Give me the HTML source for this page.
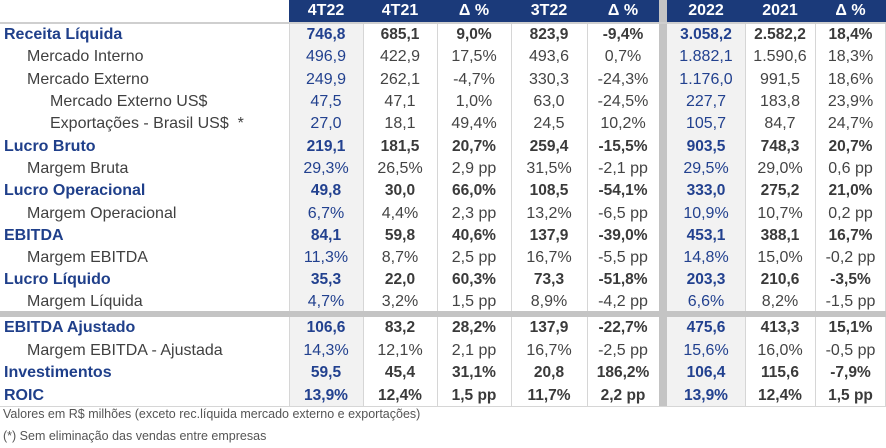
<!DOCTYPE html>
<html><head><meta charset="utf-8"><style>
*{margin:0;padding:0;box-sizing:border-box}
body{width:886px;height:448px;background:#fff;font-family:"Liberation Sans",sans-serif;position:relative;overflow:hidden}
.r{position:absolute;left:0;width:886px;height:22.3px;display:flex;align-items:center}
.c{position:absolute;top:0;height:100%;display:flex;align-items:center;justify-content:center;font-size:16px;color:#444}
.l{left:0;width:289px;justify-content:flex-start;color:#404040}
.b .c{font-weight:bold;font-size:15.5px;color:#3a3a3a}
.b .l{color:#1f3f8a;font-size:16px}
.blue{color:#22418f!important}
.vl{position:absolute;top:22px;width:1px;height:385px;background:#d6d6d6}
.sh{position:absolute;top:22px;height:385px;background:#f2f2f2}
.hd{position:absolute;top:0;height:22px;background:#1b3a7a;color:#fff;font-weight:bold;font-size:16px;display:flex;align-items:center;justify-content:center}
.fn{position:absolute;left:3px;font-size:12.5px;color:#555}
</style></head><body>
<div class="sh" style="left:289px;width:74px"></div>
<div class="sh" style="left:667px;width:78px"></div>
<div class="vl" style="left:289px"></div>
<div class="vl" style="left:363px"></div>
<div class="vl" style="left:437px"></div>
<div class="vl" style="left:511px"></div>
<div class="vl" style="left:587px"></div>
<div class="vl" style="left:745px"></div>
<div class="vl" style="left:815px"></div>
<div class="vl" style="left:885px"></div>
<div style="position:absolute;left:659px;top:0;width:8px;height:407px;background:#c4c4c4"></div>
<div class="hd" style="left:289px;width:370px"></div>
<div class="hd" style="left:667px;width:219px"></div>
<div class="hd" style="left:289px;width:74px">4T22</div>
<div class="hd" style="left:363px;width:74px">4T21</div>
<div class="hd" style="left:437px;width:74px">Δ %</div>
<div class="hd" style="left:511px;width:76px">3T22</div>
<div class="hd" style="left:587px;width:72px">Δ %</div>
<div class="hd" style="left:667px;width:78px">2022</div>
<div class="hd" style="left:745px;width:70px">2021</div>
<div class="hd" style="left:815px;width:71px">Δ %</div>
<div style="position:absolute;left:0;top:22px;width:886px;height:2px;background:#cfcfcf"></div>
<div style="position:absolute;left:0;top:311px;width:886px;height:6px;background:#c4c4c4"></div>
<div style="position:absolute;left:0;top:406px;width:886px;height:1px;background:#d6d6d6"></div>

<div class="fn" style="top:407px">Valores em R$ milhões (exceto rec.líquida mercado externo e exportações)</div>
<div class="fn" style="top:429px">(*) Sem eliminação das vendas entre empresas</div>

<div class="r b" style="top:24px"><div class="c l" style="padding-left:4px">Receita Líquida</div><div class="c blue" style="left:289px;width:74px">746,8</div><div class="c" style="left:363px;width:74px">685,1</div><div class="c" style="left:437px;width:74px">9,0%</div><div class="c" style="left:511px;width:76px">823,9</div><div class="c" style="left:587px;width:72px">-9,4%</div><div class="c blue" style="left:667px;width:78px">3.058,2</div><div class="c" style="left:745px;width:70px">2.582,2</div><div class="c" style="left:815px;width:71px">18,4%</div></div>
<div class="r" style="top:46.3px"><div class="c l" style="padding-left:27px">Mercado Interno</div><div class="c blue" style="left:289px;width:74px">496,9</div><div class="c" style="left:363px;width:74px">422,9</div><div class="c" style="left:437px;width:74px">17,5%</div><div class="c" style="left:511px;width:76px">493,6</div><div class="c" style="left:587px;width:72px">0,7%</div><div class="c blue" style="left:667px;width:78px">1.882,1</div><div class="c" style="left:745px;width:70px">1.590,6</div><div class="c" style="left:815px;width:71px">18,3%</div></div>
<div class="r" style="top:68.6px"><div class="c l" style="padding-left:27px">Mercado Externo</div><div class="c blue" style="left:289px;width:74px">249,9</div><div class="c" style="left:363px;width:74px">262,1</div><div class="c" style="left:437px;width:74px">-4,7%</div><div class="c" style="left:511px;width:76px">330,3</div><div class="c" style="left:587px;width:72px">-24,3%</div><div class="c blue" style="left:667px;width:78px">1.176,0</div><div class="c" style="left:745px;width:70px">991,5</div><div class="c" style="left:815px;width:71px">18,6%</div></div>
<div class="r" style="top:90.9px"><div class="c l" style="padding-left:50px">Mercado Externo US$</div><div class="c blue" style="left:289px;width:74px">47,5</div><div class="c" style="left:363px;width:74px">47,1</div><div class="c" style="left:437px;width:74px">1,0%</div><div class="c" style="left:511px;width:76px">63,0</div><div class="c" style="left:587px;width:72px">-24,5%</div><div class="c blue" style="left:667px;width:78px">227,7</div><div class="c" style="left:745px;width:70px">183,8</div><div class="c" style="left:815px;width:71px">23,9%</div></div>
<div class="r" style="top:113.2px"><div class="c l" style="padding-left:50px">Exportações - Brasil US$ &nbsp;*</div><div class="c blue" style="left:289px;width:74px">27,0</div><div class="c" style="left:363px;width:74px">18,1</div><div class="c" style="left:437px;width:74px">49,4%</div><div class="c" style="left:511px;width:76px">24,5</div><div class="c" style="left:587px;width:72px">10,2%</div><div class="c blue" style="left:667px;width:78px">105,7</div><div class="c" style="left:745px;width:70px">84,7</div><div class="c" style="left:815px;width:71px">24,7%</div></div>
<div class="r b" style="top:135.5px"><div class="c l" style="padding-left:4px">Lucro Bruto</div><div class="c blue" style="left:289px;width:74px">219,1</div><div class="c" style="left:363px;width:74px">181,5</div><div class="c" style="left:437px;width:74px">20,7%</div><div class="c" style="left:511px;width:76px">259,4</div><div class="c" style="left:587px;width:72px">-15,5%</div><div class="c blue" style="left:667px;width:78px">903,5</div><div class="c" style="left:745px;width:70px">748,3</div><div class="c" style="left:815px;width:71px">20,7%</div></div>
<div class="r" style="top:157.8px"><div class="c l" style="padding-left:27px">Margem Bruta</div><div class="c blue" style="left:289px;width:74px">29,3%</div><div class="c" style="left:363px;width:74px">26,5%</div><div class="c" style="left:437px;width:74px">2,9 pp</div><div class="c" style="left:511px;width:76px">31,5%</div><div class="c" style="left:587px;width:72px">-2,1 pp</div><div class="c blue" style="left:667px;width:78px">29,5%</div><div class="c" style="left:745px;width:70px">29,0%</div><div class="c" style="left:815px;width:71px">0,6 pp</div></div>
<div class="r b" style="top:180.1px"><div class="c l" style="padding-left:4px">Lucro Operacional</div><div class="c blue" style="left:289px;width:74px">49,8</div><div class="c" style="left:363px;width:74px">30,0</div><div class="c" style="left:437px;width:74px">66,0%</div><div class="c" style="left:511px;width:76px">108,5</div><div class="c" style="left:587px;width:72px">-54,1%</div><div class="c blue" style="left:667px;width:78px">333,0</div><div class="c" style="left:745px;width:70px">275,2</div><div class="c" style="left:815px;width:71px">21,0%</div></div>
<div class="r" style="top:202.4px"><div class="c l" style="padding-left:27px">Margem Operacional</div><div class="c blue" style="left:289px;width:74px">6,7%</div><div class="c" style="left:363px;width:74px">4,4%</div><div class="c" style="left:437px;width:74px">2,3 pp</div><div class="c" style="left:511px;width:76px">13,2%</div><div class="c" style="left:587px;width:72px">-6,5 pp</div><div class="c blue" style="left:667px;width:78px">10,9%</div><div class="c" style="left:745px;width:70px">10,7%</div><div class="c" style="left:815px;width:71px">0,2 pp</div></div>
<div class="r b" style="top:224.7px"><div class="c l" style="padding-left:4px">EBITDA</div><div class="c blue" style="left:289px;width:74px">84,1</div><div class="c" style="left:363px;width:74px">59,8</div><div class="c" style="left:437px;width:74px">40,6%</div><div class="c" style="left:511px;width:76px">137,9</div><div class="c" style="left:587px;width:72px">-39,0%</div><div class="c blue" style="left:667px;width:78px">453,1</div><div class="c" style="left:745px;width:70px">388,1</div><div class="c" style="left:815px;width:71px">16,7%</div></div>
<div class="r" style="top:247px"><div class="c l" style="padding-left:27px">Margem EBITDA</div><div class="c blue" style="left:289px;width:74px">11,3%</div><div class="c" style="left:363px;width:74px">8,7%</div><div class="c" style="left:437px;width:74px">2,5 pp</div><div class="c" style="left:511px;width:76px">16,7%</div><div class="c" style="left:587px;width:72px">-5,5 pp</div><div class="c blue" style="left:667px;width:78px">14,8%</div><div class="c" style="left:745px;width:70px">15,0%</div><div class="c" style="left:815px;width:71px">-0,2 pp</div></div>
<div class="r b" style="top:269.3px"><div class="c l" style="padding-left:4px">Lucro Líquido</div><div class="c blue" style="left:289px;width:74px">35,3</div><div class="c" style="left:363px;width:74px">22,0</div><div class="c" style="left:437px;width:74px">60,3%</div><div class="c" style="left:511px;width:76px">73,3</div><div class="c" style="left:587px;width:72px">-51,8%</div><div class="c blue" style="left:667px;width:78px">203,3</div><div class="c" style="left:745px;width:70px">210,6</div><div class="c" style="left:815px;width:71px">-3,5%</div></div>
<div class="r" style="top:291.6px;height:20px"><div class="c l" style="padding-left:27px">Margem Líquida</div><div class="c blue" style="left:289px;width:74px">4,7%</div><div class="c" style="left:363px;width:74px">3,2%</div><div class="c" style="left:437px;width:74px">1,5 pp</div><div class="c" style="left:511px;width:76px">8,9%</div><div class="c" style="left:587px;width:72px">-4,2 pp</div><div class="c blue" style="left:667px;width:78px">6,6%</div><div class="c" style="left:745px;width:70px">8,2%</div><div class="c" style="left:815px;width:71px">-1,5 pp</div></div>

<div class="r b" style="top:317px"><div class="c l" style="padding-left:4px">EBITDA Ajustado</div><div class="c blue" style="left:289px;width:74px">106,6</div><div class="c" style="left:363px;width:74px">83,2</div><div class="c" style="left:437px;width:74px">28,2%</div><div class="c" style="left:511px;width:76px">137,9</div><div class="c" style="left:587px;width:72px">-22,7%</div><div class="c blue" style="left:667px;width:78px">475,6</div><div class="c" style="left:745px;width:70px">413,3</div><div class="c" style="left:815px;width:71px">15,1%</div></div>
<div class="r" style="top:339.5px"><div class="c l" style="padding-left:27px">Margem EBITDA - Ajustada</div><div class="c blue" style="left:289px;width:74px">14,3%</div><div class="c" style="left:363px;width:74px">12,1%</div><div class="c" style="left:437px;width:74px">2,1 pp</div><div class="c" style="left:511px;width:76px">16,7%</div><div class="c" style="left:587px;width:72px">-2,5 pp</div><div class="c blue" style="left:667px;width:78px">15,6%</div><div class="c" style="left:745px;width:70px">16,0%</div><div class="c" style="left:815px;width:71px">-0,5 pp</div></div>
<div class="r b" style="top:362px"><div class="c l" style="padding-left:4px">Investimentos</div><div class="c blue" style="left:289px;width:74px">59,5</div><div class="c" style="left:363px;width:74px">45,4</div><div class="c" style="left:437px;width:74px">31,1%</div><div class="c" style="left:511px;width:76px">20,8</div><div class="c" style="left:587px;width:72px">186,2%</div><div class="c blue" style="left:667px;width:78px">106,4</div><div class="c" style="left:745px;width:70px">115,6</div><div class="c" style="left:815px;width:71px">-7,9%</div></div>
<div class="r b" style="top:384.5px"><div class="c l" style="padding-left:4px">ROIC</div><div class="c blue" style="left:289px;width:74px">13,9%</div><div class="c" style="left:363px;width:74px">12,4%</div><div class="c" style="left:437px;width:74px">1,5 pp</div><div class="c" style="left:511px;width:76px">11,7%</div><div class="c" style="left:587px;width:72px">2,2 pp</div><div class="c blue" style="left:667px;width:78px">13,9%</div><div class="c" style="left:745px;width:70px">12,4%</div><div class="c" style="left:815px;width:71px">1,5 pp</div></div>
</body></html>
